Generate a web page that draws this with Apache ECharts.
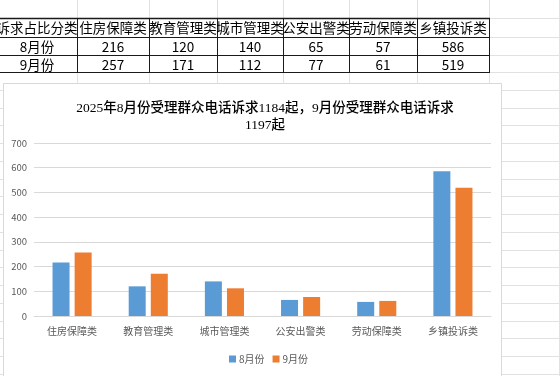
<!DOCTYPE html>
<html><head><meta charset="utf-8">
<script src="https://cdn.jsdelivr.net/npm/echarts@6/dist/echarts.min.js"></script>
<style>html,body{margin:0;padding:0;background:#fff}#c{width:560px;height:376px}</style>
</head><body><div id="c"></div>
<script>
// ---- data ----
const categories = ['住房保障类', '教育管理类', '城市管理类', '公安出警类', '劳动保障类', '乡镇投诉类'];
const seriesNames = ['8月份', '9月份'];
const augValues = [216, 120, 140, 65, 57, 586];
const sepValues = [257, 171, 112, 77, 61, 519];
const tableCorner = '诉求占比分类';
const yTickLabels = ['0', '100', '200', '300', '400', '500', '600', '700'];
const titleText = '2025年8月份受理群众电话诉求1184起，9月份受理群众电话诉求\n1197起';

// ---- layout (not data) ----
const colX = [-3, 77, 149, 217, 283, 349, 417, 489];
const rowY = [18, 36.5, 54.5, 72];
const sheetGray = '#E1E1E1';
const cjk = "'Noto Sans CJK SC', 'Noto Sans', sans-serif";

const graphics = [];
// spreadsheet gridlines
const sheetRows = [18, 36.5, 54.5];
for (let y = 72; y < 380; y += 17.75) sheetRows.push(y);
sheetRows.forEach(y => graphics.push({type: 'line', z: -20, silent: true,
  shape: {x1: 0, y1: Math.round(y) + 0.5, x2: 560, y2: Math.round(y) + 0.5},
  style: {stroke: sheetGray, lineWidth: 1}}));
colX.slice(1).concat([559]).forEach(x => graphics.push({type: 'line', z: -20, silent: true,
  shape: {x1: x + 0.5, y1: 0, x2: x + 0.5, y2: 376}, style: {stroke: sheetGray, lineWidth: 1}}));
// chart area
graphics.push({type: 'rect', z: -10, silent: true,
  shape: {x: 3.5, y: 83.5, width: 498, height: 320},
  style: {fill: '#fff', stroke: '#D9D9D9', lineWidth: 1}});
// table cells background
graphics.push({type: 'rect', z: -5, silent: true,
  shape: {x: 0, y: rowY[0], width: colX[7], height: rowY[3] - rowY[0]},
  style: {fill: '#fff'}});
// table borders
rowY.forEach((y, i) => graphics.push({type: 'line', z: 5, silent: true,
  shape: {x1: 0, y1: Math.round(y) + 0.5, x2: colX[7] + 1, y2: Math.round(y) + 0.5},
  style: {stroke: '#1a1a1a', lineWidth: i === 0 ? 1.5 : 1}}));
colX.slice(1).forEach(x => graphics.push({type: 'line', z: 5, silent: true,
  shape: {x1: x + 0.5, y1: rowY[0], x2: x + 0.5, y2: rowY[3] + 0.5},
  style: {stroke: '#1a1a1a', lineWidth: 1}}));
// table texts
const tableRows = [
  [tableCorner].concat(categories),
  [seriesNames[0]].concat(augValues.map(String)),
  [seriesNames[1]].concat(sepValues.map(String))
];
const textY = [28, 46.5, 64.5];
tableRows.forEach((row, r) => row.forEach((t, c) => graphics.push({type: 'text', z: 6, silent: true,
  x: (colX[c] + colX[c + 1]) / 2, y: textY[r],
  style: {text: t, fill: '#000', align: 'center', verticalAlign: 'middle',
    fontSize: 13.5, fontFamily: cjk}})));
// chart title
graphics.push({type: 'text', z: 6, silent: true, x: 265, y: 117,
  style: {text: titleText, fill: '#000', align: 'center', verticalAlign: 'middle',
    fontSize: 13.5, lineHeight: 17.5, fontWeight: 500,
    fontFamily: "'Liberation Serif', 'Noto Sans CJK SC', serif"}});

const chart = echarts.init(document.getElementById('c'), null, {renderer: 'canvas'});
chart.setOption({
  animation: false,
  backgroundColor: 'transparent',
  graphic: graphics,
  legend: {
    data: seriesNames, left: 229, top: 354, padding: 0, icon: 'rect', itemWidth: 7, itemHeight: 7,
    itemGap: 8, textStyle: {color: '#595959', fontSize: 10, fontFamily: cjk, padding: [0, 0, 0, -2]}
  },
  grid: {left: 34, right: 69, top: 143, bottom: 60, containLabel: false},
  xAxis: {
    type: 'category', data: categories,
    axisLine: {lineStyle: {color: '#D9D9D9'}}, axisTick: {show: false},
    axisLabel: {color: '#595959', fontSize: 10, margin: 10, fontFamily: cjk, interval: 0}
  },
  yAxis: {
    type: 'value', min: 0, max: 700, interval: 100,
    axisLine: {show: false}, axisTick: {show: false},
    axisLabel: {color: '#595959', fontSize: 9.5, margin: 7, fontFamily: cjk,
      formatter: (v) => yTickLabels[Math.round(v / 100)]},
    splitLine: {lineStyle: {color: '#D9D9D9'}}
  },
  series: [
    {name: seriesNames[0], type: 'bar', data: augValues, barWidth: 17, barGap: '30%',
      itemStyle: {color: '#5B9BD5'}},
    {name: seriesNames[1], type: 'bar', data: sepValues, barWidth: 17, barGap: '30%',
      itemStyle: {color: '#ED7D31'}}
  ]
});
</script>
</body></html>
